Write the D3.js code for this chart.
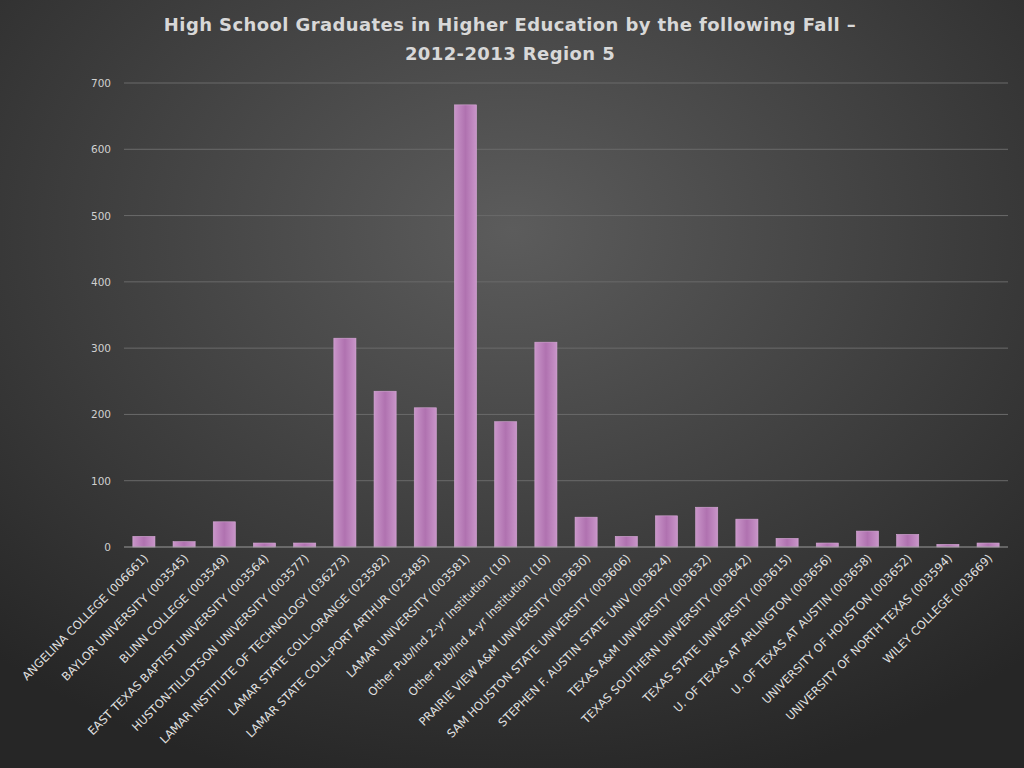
<!DOCTYPE html>
<html>
<head>
<meta charset="utf-8">
<script src="https://cdn.jsdelivr.net/npm/d3@7"></script>
<style>
  body { margin: 0; background: #333; }
  svg { display: block; }
</style>
</head>
<body>
<svg id="chart" width="1024" height="768"></svg>
<script>
// chart data
const categories = [
  "ANGELINA COLLEGE (006661)", "BAYLOR UNIVERSITY (003545)", "BLINN COLLEGE (003549)",
  "EAST TEXAS BAPTIST UNIVERSITY (003564)", "HUSTON-TILLOTSON UNIVERSITY (003577)",
  "LAMAR INSTITUTE OF TECHNOLOGY (036273)", "LAMAR STATE COLL-ORANGE (023582)",
  "LAMAR STATE COLL-PORT ARTHUR (023485)", "LAMAR UNIVERSITY (003581)",
  "Other Pub/Ind 2-yr Institution (10)", "Other Pub/Ind 4-yr Institution (10)",
  "PRAIRIE VIEW A&M UNIVERSITY (003630)", "SAM HOUSTON STATE UNIVERSITY (003606)",
  "STEPHEN F. AUSTIN STATE UNIV (003624)", "TEXAS A&M UNIVERSITY (003632)",
  "TEXAS SOUTHERN UNIVERSITY (003642)", "TEXAS STATE UNIVERSITY (003615)",
  "U. OF TEXAS AT ARLINGTON (003656)", "U. OF TEXAS AT AUSTIN (003658)",
  "UNIVERSITY OF HOUSTON (003652)", "UNIVERSITY OF NORTH TEXAS (003594)",
  "WILEY COLLEGE (003669)"
];
const graduates = [16, 8, 38, 6, 6, 315, 235, 210, 667, 189, 309, 45, 16, 47, 60, 42, 13, 6, 24, 19, 4, 6];
const yTicks = [0, 100, 200, 300, 400, 500, 600, 700];
const titleLines = ["High School Graduates in Higher Education by the following Fall \u2013", "2012-2013 Region 5"];

const svg = d3.select("#chart");
const W = 1024, H = 768;
const margin = { top: 83, right: 16, bottom: 221, left: 124 };

const defs = svg.append("defs");
const bg = defs.append("radialGradient").attr("id", "bg")
  .attr("cx", "50%").attr("cy", "30%").attr("r", "75%");
bg.append("stop").attr("offset", "0%").attr("stop-color", "#5c5c5c");
bg.append("stop").attr("offset", "100%").attr("stop-color", "#262626");

const barGrad = defs.append("linearGradient").attr("id", "bar")
  .attr("x1", "0%").attr("x2", "100%");
barGrad.append("stop").attr("offset", "0%").attr("stop-color", "#c995c9");
barGrad.append("stop").attr("offset", "50%").attr("stop-color", "#b072b0");
barGrad.append("stop").attr("offset", "100%").attr("stop-color", "#c995c9");

svg.append("rect").attr("width", W).attr("height", H).attr("fill", "url(#bg)");

const x = d3.scaleBand().domain(categories)
  .range([margin.left, W - margin.right]).paddingInner(0.45).paddingOuter(0.22);
const y = d3.scaleLinear().domain([0, 700]).range([H - margin.bottom, margin.top]);

// gridlines
svg.append("g").selectAll("line").data(yTicks.slice(1)).join("line")
  .attr("x1", margin.left).attr("x2", W - margin.right)
  .attr("y1", d => y(d)).attr("y2", d => y(d))
  .attr("stroke", "#6a6a6a").attr("stroke-width", 1);

// y labels
svg.append("g").selectAll("text").data(yTicks).join("text")
  .attr("x", 111).attr("y", d => y(d) + 4)
  .attr("text-anchor", "end").attr("fill", "#d0d0d0")
  .attr("font-family", "'DejaVu Sans', sans-serif").attr("font-size", 10.5)
  .text(d => d);

// bars
svg.append("g").selectAll("rect").data(graduates).join("rect")
  .attr("x", (d, i) => x(categories[i]))
  .attr("width", x.bandwidth())
  .attr("y", d => y(d))
  .attr("height", d => y(0) - y(d))
  .attr("fill", "url(#bar)")
  .attr("stroke", "#d7a8d7").attr("stroke-width", 0.6);

// baseline
svg.append("line")
  .attr("x1", margin.left).attr("x2", W - margin.right)
  .attr("y1", y(0)).attr("y2", y(0))
  .attr("stroke", "#9a9a9a");

// x labels
svg.append("g").selectAll("text").data(categories).join("text")
  .attr("transform", d => `translate(${x(d) + x.bandwidth() / 2 + 5},${y(0) + 12}) rotate(-45)`)
  .attr("text-anchor", "end").attr("fill", "#e0e0e0")
  .attr("font-family", "'DejaVu Sans', sans-serif").attr("font-size", 11.5)
  .text(d => d);

// title
svg.append("g").selectAll("text").data(titleLines).join("text")
  .attr("x", W / 2 - 2).attr("y", (d, i) => 31 + i * 29)
  .attr("text-anchor", "middle").attr("fill", "#d8d8d8")
  .attr("font-family", "'DejaVu Sans', sans-serif").attr("font-weight", "bold")
  .attr("font-size", 18).attr("letter-spacing", 0.4)
  .text(d => d);
</script>
</body>
</html>
